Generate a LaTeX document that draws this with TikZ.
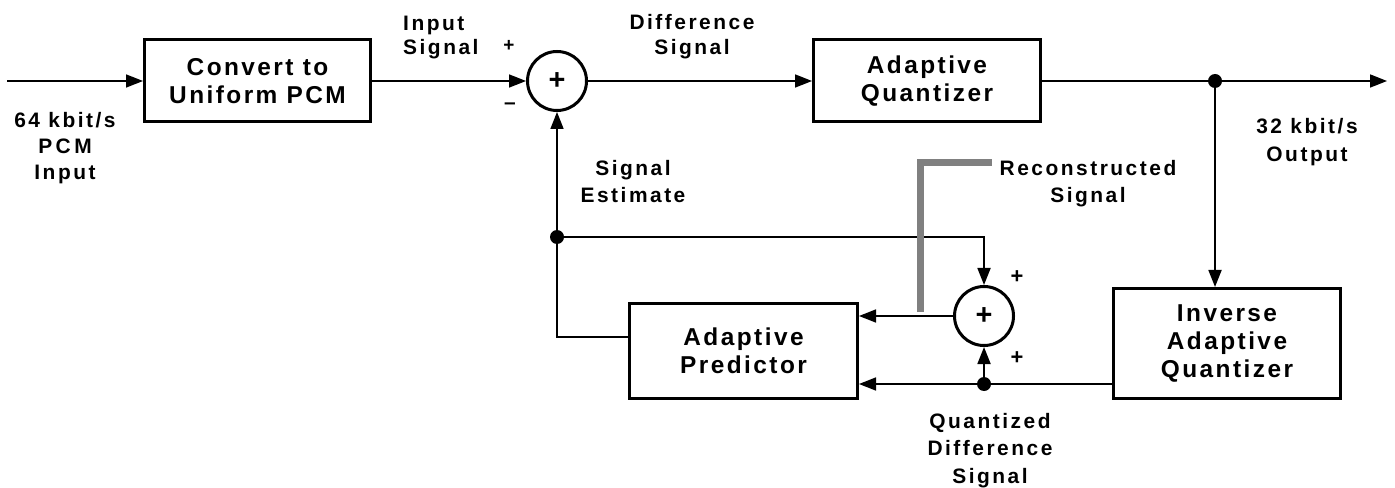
\documentclass[tikz,border=0pt]{standalone}
\usepackage{fontspec}
\setmainfont{Liberation Sans}
\newfontfamily\boxfont[LetterSpace=10]{Liberation Sans}
\newfontfamily\lblfont[LetterSpace=12]{Liberation Sans}
\usetikzlibrary{arrows.meta}
\definecolor{recgray}{RGB}{128,128,128}
\begin{document}
\begin{tikzpicture}[x=1bp,y=-1bp,
  blk/.style={draw, line width=3bp, inner sep=0pt, align=center,
    font=\boxfont\bfseries\fontsize{24.5}{28.5}\selectfont},
  sumc/.style={circle, draw, line width=3bp, minimum size=59bp, inner sep=0pt,
    font=\bfseries\fontsize{29}{29}\selectfont},
  lbl/.style={inner sep=0pt, align=center,
    font=\lblfont\bfseries\fontsize{21}{27}\selectfont},
  sgn/.style={inner sep=0pt, font=\bfseries\fontsize{19}{19}\selectfont},
  sgnb/.style={inner sep=0pt, font=\bfseries\fontsize{22}{22}\selectfont},
  wire/.style={line width=1.7bp},
  arr/.style={wire, -{Triangle[length=17bp,width=13bp]}},
  dot/.style={circle, fill, minimum size=14bp, inner sep=0pt},
  recline/.style={line width=7bp, draw=recgray}
]
\useasboundingbox (0,0) rectangle (1395,488);

% blocks
\node[blk, minimum width=226bp, minimum height=82bp] (conv) at (257.5,81) {Convert to\\Uniform PCM};
\node[sumc] (s1) at (557,81) {+};
\node[blk, minimum width=227bp, minimum height=82bp] (aq) at (927,81) {Adaptive\\Quantizer};
\node[blk, minimum width=227bp, minimum height=110bp] (inv) at (1227,343.5) {Inverse\\Adaptive\\Quantizer};
\node[blk, minimum width=228bp, minimum height=95bp] (pred) at (743.5,351) {Adaptive\\Predictor};
\node[sumc] (s2) at (984,316) {+};

% junctions and free ends
\node[dot] (j1) at (1215,81) {};
\node[dot] (j2) at (557,237) {};
\node[dot] (j3) at (984,384) {};
\coordinate (in) at (7,81);
\coordinate (out) at (1387,81);
\coordinate (c1) at (557,337);
\coordinate (c2) at (984,237);

% connectors
\draw[arr] (in) -- (conv.west);
\draw[arr] (conv.east) -- (s1.west);
\draw[arr] (s1.east) -- (aq.west);
\draw[wire] (aq.east) -- (j1.center);
\draw[arr] (j1.center) -- (out);
\draw[arr] (j1.center) -- (j1 |- inv.north);
\draw[arr] (inv.west |- j3) -- (pred.east |- j3);
\draw[arr] (j3.center) -- (s2.south);
\draw[arr] (s2.west) -- (pred.east |- s2.west);
\draw[wire] (pred.west |- c1) -- (c1) -- (j2.center);
\draw[arr] (j2.center) -- (s1.south);
\draw[arr] (j2.center) -- (c2) -- (s2.north);

% reconstructed signal marker
\draw[recline] (920,312) -- (920,163) -- (992,163);

% labels (anchor=base is the baseline of the last line)
\node[lbl, anchor=base west, align=left, font=\lblfont\bfseries\fontsize{21}{25}\selectfont] (lin) at (403,55) {Input\\Signal};
\node[sgn] (p1) at (509,46) {+};
\node[lbl] (m1) at (510,106) {–};
\node[lbl, anchor=base, font=\lblfont\bfseries\fontsize{21}{26}\selectfont] (ldiff) at (692,55) {Difference\\Signal};
\node[lbl, anchor=base, font=\lblfont\bfseries\fontsize{21}{26.5}\selectfont] (l64) at (65,180) {64 kbit/s\\P\,C\,M\\Input};
\node[lbl, anchor=base, font=\lblfont\bfseries\fontsize{21}{29}\selectfont] (l32) at (1307,162) {32 kbit/s\\Output};
\node[lbl, anchor=base, font=\lblfont\bfseries\fontsize{21}{28}\selectfont] (lest) at (633,203) {Signal\\Estimate};
\node[lbl, anchor=base, font=\lblfont\bfseries\fontsize{21}{28}\selectfont] (lrec) at (1088,203) {Reconstructed\\Signal};
\node[lbl, anchor=base, font=\lblfont\bfseries\fontsize{21}{27.5}\selectfont] (lqd) at (990,483) {Quantized\\Difference\\Signal};
\node[sgnb] (p2) at (1017,277) {+};
\node[sgnb] (p3) at (1017,358) {+};
\end{tikzpicture}
\end{document}
